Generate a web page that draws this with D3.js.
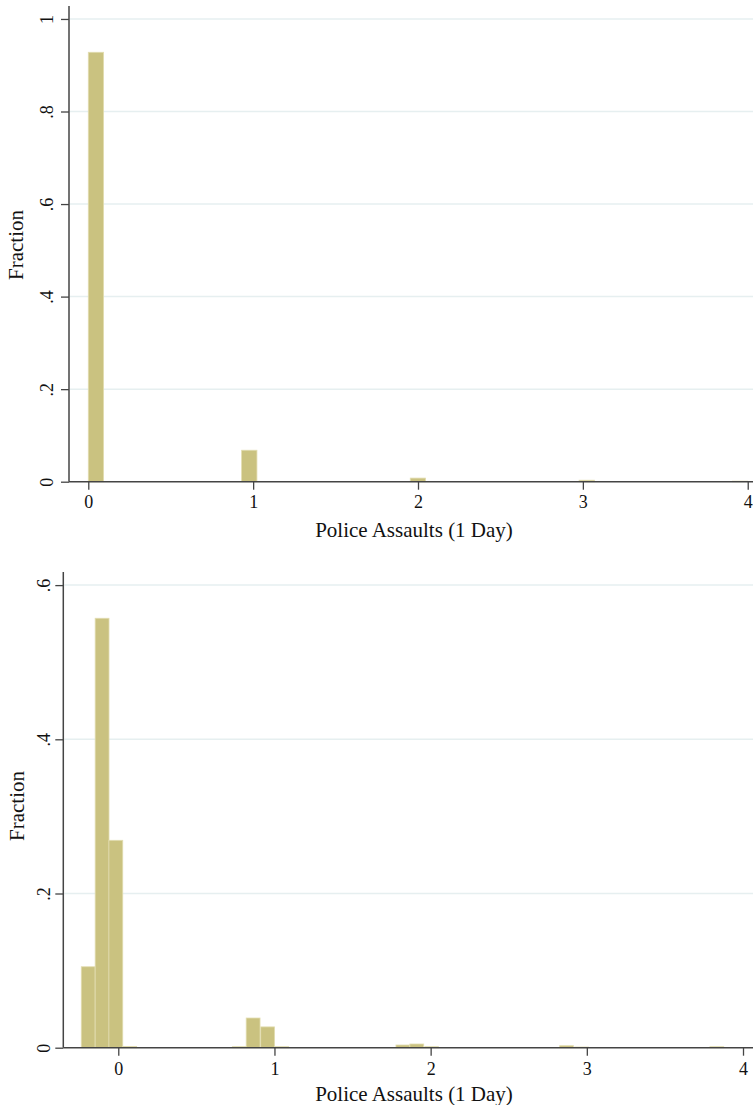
<!DOCTYPE html>
<html>
<head>
<meta charset="utf-8">
<script src="https://cdn.jsdelivr.net/npm/d3@7"></script>
<style>
  body { margin: 0; background: #fff; }
  svg { display: block; }
  .tick text { font-family: "Liberation Serif", "Times New Roman", serif; font-size: 18px; fill: #111; }
  .title { font-family: "Liberation Serif", "Times New Roman", serif; font-size: 21px; fill: #111; }
</style>
</head>
<body>
<div id="chart"></div>
<script>
// top panel: left edge of each bin and its fraction
var topBinLo = [0, 0.930, 1.953, 2.977, 3.907];
var topFrac = [0.928, 0.068, 0.0078, 0.0032, 0.0012];
var topBinWidth = 0.093;
var topYTicks = [0, 0.2, 0.4, 0.6, 0.8, 1];

// bottom panel
var botBinLo = [-0.237, -0.148, -0.060, 0.029, 0.730, 0.819, 0.912, 1.003, 1.778, 1.867, 1.962, 2.826, 2.922, 3.788];
var botFrac = [0.105, 0.557, 0.269, 0.0017, 0.0013, 0.0385, 0.027, 0.0013, 0.0035, 0.0048, 0.0013, 0.0026, 0.0009, 0.0013];
var botBinWidth = 0.0887;
var botYTicks = [0, 0.2, 0.4, 0.6];

var xTicks = [0, 1, 2, 3, 4];
var xTitle = "Police Assaults (1 Day)";
var yTitle = "Fraction";

var svg = d3.select('#chart')
    .append('svg')
    .attr('width', 753)
    .attr('height', 1105);

function fmt(d) {
    if (d === 0) return "0";
    if (d === 1) return "1";
    return String(d).replace(/^0/, "");
}

function panel(o) {
    var g = svg.append('g');
    var xScale = d3.scaleLinear().domain(o.xDomain).range([o.left, 753]);
    var yScale = d3.scaleLinear().domain(o.yDomain).range([o.bottom, o.top]);

    // gridlines
    g.selectAll('line.grid')
        .data(o.yTicks.filter(function(d) { return d > 0; }))
        .enter().append('line')
        .attr('class', 'grid')
        .attr('x1', o.left + 1).attr('x2', 753)
        .attr('y1', function(d) { return yScale(d); })
        .attr('y2', function(d) { return yScale(d); })
        .attr('stroke', '#e6eff0')
        .attr('stroke-width', 1.5);

    // bars
    g.selectAll('rect.bar')
        .data(o.lo.map(function(d, i) { return { lo: d, v: o.frac[i] }; }))
        .enter().append('rect')
        .attr('class', 'bar')
        .attr('x', function(d) { return xScale(d.lo); })
        .attr('width', function(d) { return xScale(d.lo + o.w) - xScale(d.lo); })
        .attr('y', function(d) { return yScale(d.v); })
        .attr('height', function(d) { return yScale(0) - yScale(d.v); })
        .attr('fill', '#cac280')
        .attr('stroke', '#e2ddb0')
        .attr('stroke-width', 0.8);

    var yAxis = d3.axisLeft(yScale).tickValues(o.yTicks).tickFormat(fmt).tickSize(8).tickSizeOuter(0);
    var ya = g.append('g')
        .attr('transform', 'translate(' + o.left + ',0)')
        .call(yAxis);
    ya.select('.domain').remove();
    ya.selectAll('.tick line').attr('stroke', '#444').attr('stroke-width', 1.3);
    ya.selectAll('.tick text')
        .attr('x', null).attr('dy', null)
        .attr('text-anchor', 'middle')
        .attr('transform', 'translate(' + o.yLabelDx + ',0) rotate(-90)');

    var xAxis = d3.axisBottom(xScale).tickValues(xTicks).tickFormat(d3.format('d')).tickSize(8).tickSizeOuter(0);
    var xa = g.append('g')
        .attr('transform', 'translate(0,' + o.bottom + ')')
        .call(xAxis);
    xa.select('.domain').remove();
    xa.selectAll('.tick line').attr('stroke', '#444').attr('stroke-width', 1.3);
    xa.selectAll('.tick text').attr('dy', null).attr('y', o.xLabelDy);

    // axis lines
    g.append('line')
        .attr('x1', o.left).attr('x2', o.left)
        .attr('y1', yScale(o.yDomain[1])).attr('y2', yScale(0))
        .attr('stroke', '#444').attr('stroke-width', 1.5);
    g.append('line')
        .attr('x1', o.left).attr('x2', 753)
        .attr('y1', yScale(0)).attr('y2', yScale(0))
        .attr('stroke', '#444').attr('stroke-width', 1.5);

    g.append('text')
        .attr('class', 'title')
        .attr('text-anchor', 'middle')
        .attr('x', o.xTitleX).attr('y', o.xTitleY)
        .text(xTitle);
    g.append('text')
        .attr('class', 'title')
        .attr('text-anchor', 'middle')
        .attr('transform', 'translate(' + o.yTitleX + ',' + o.yTitleY + ') rotate(-90)')
        .text(yTitle);
}

panel({
    lo: topBinLo, frac: topFrac, w: topBinWidth, yTicks: topYTicks,
    xDomain: [-0.117, 4.032], yDomain: [0, 1.028],
    left: 69, top: 6, bottom: 481.7,
    yLabelDx: -16, xLabelDy: 26.6,
    xTitleX: 414, xTitleY: 536.7, yTitleX: 23, yTitleY: 245
});

panel({
    lo: botBinLo, frac: botFrac, w: botBinWidth, yTicks: botYTicks,
    xDomain: [-0.352, 4.064], yDomain: [0, 0.617],
    left: 63.3, top: 572, bottom: 1047.7,
    yLabelDx: -13, xLabelDy: 27.3,
    xTitleX: 414, xTitleY: 1101, yTitleX: 24, yTitleY: 806
});
</script>
</body>
</html>
